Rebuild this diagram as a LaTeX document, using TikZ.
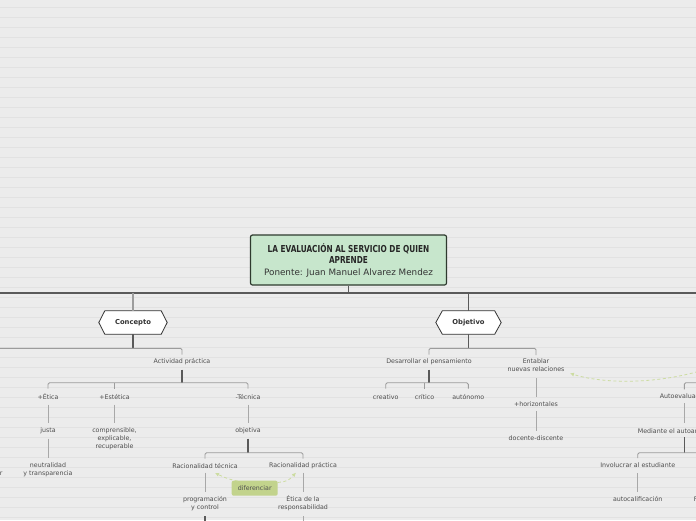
\documentclass[tikz,border=0pt]{standalone}
\usepackage{fontspec}
\setmainfont{DejaVu Sans}
\newfontfamily\titlefont[FakeStretch=0.85]{DejaVu Sans Condensed}
\usetikzlibrary{arrows.meta,calc}
\pgfdeclarelayer{bgl}
\pgfdeclarelayer{back}
\pgfsetlayers{bgl,back,main}
\definecolor{bgc}{HTML}{ECECEC}
\definecolor{bglc}{HTML}{E2E2E2}
\definecolor{txt}{HTML}{4E4E4E}
\definecolor{hext}{HTML}{333333}
\definecolor{trunkc}{HTML}{5A5A5A}
\definecolor{brc}{HTML}{9C9C9C}
\definecolor{clc}{HTML}{A8A8A8}
\definecolor{rootfill}{HTML}{C7E6CC}
\definecolor{rootdraw}{HTML}{2E3A2E}
\definecolor{diffill}{HTML}{C2D38C}
\definecolor{greenl}{HTML}{CCDCA0}
\begin{document}
\begin{tikzpicture}[x=1pt,y=-1pt,
  lbl/.style={font=\fontsize{6.3}{8}\selectfont, text=txt, align=center, inner sep=0pt},
  hexlbl/.style={font=\bfseries\fontsize{6.8}{8}\selectfont, text=hext, inner sep=0pt, minimum height=23pt},
  hexb/.style={fill=white, draw=hext, line width=0.8pt, line join=miter},
  trunk/.style={draw=trunkc, line width=1.1pt},
  rootl/.style={draw=trunkc, line width=1.1pt},
  br/.style={draw=brc, line width=0.9pt, rounded corners=1.5pt},
  cl/.style={draw=clc, line width=0.9pt},
  dashg/.style={draw=greenl, line width=0.8pt, dash pattern=on 3pt off 2.5pt, -{Latex[length=4pt,width=4pt]}}
]
\useasboundingbox (0,0) rectangle (696,520);
\clip (0,0) rectangle (696,520);
\begin{pgfonlayer}{bgl}
\fill[bgc] (0,0) rectangle (696,520);
\foreach \k in {0,...,51} \draw[bglc, line width=0.8pt] (0,{7.5+10*\k}) -- (696,{7.5+10*\k});
\end{pgfonlayer}

% edge coordinates
\coordinate (mbL) at (-2,293);
\coordinate (mbR) at (698,293);
\coordinate (cbar) at (-2,348.3);
\coordinate (abar) at (0,382.7);
\coordinate (obar) at (0,452.7);
\coordinate (bottom) at (0,522);
\coordinate (objbar) at (0,348.3);
\coordinate (dbar) at (0,382.7);
\coordinate (rbar1) at (698,382.7);
\coordinate (mbar) at (698,452.7);
\coordinate (gstart) at (698,371.5);

% root
\node[draw=rootdraw, fill=rootfill, line width=1.2pt, rounded corners=2pt, minimum width=196pt, minimum height=50pt, inner sep=0pt] (root) at (348.5,260) {};
\node[font=\titlefont\bfseries\fontsize{9.6}{10.6}\selectfont, text=black!85, align=center, anchor=base, inner sep=0pt] (title) at (348.5,263.3) {LA EVALUACIÓN AL SERVICIO DE QUIEN\\APRENDE};
\node[font=\fontsize{8.8}{10}\selectfont, text=hext, anchor=base, inner sep=0pt] (sub) at (348.5,275) {Ponente: Juan Manuel Alvarez Mendez};

% hexagons
\node[hexlbl, minimum width=56pt] (concepto) at (133,322.5) {Concepto};
\node[hexlbl, minimum width=52pt] (objetivo) at (468.5,322.5) {Objetivo};
\begin{pgfonlayer}{back}
\filldraw[hexb] ([xshift=-6pt]concepto.west) -- (concepto.north west) -- (concepto.north east) -- ([xshift=6pt]concepto.east) -- (concepto.south east) -- (concepto.south west) -- cycle;
\filldraw[hexb] ([xshift=-6.5pt]objetivo.west) -- (objetivo.north west) -- (objetivo.north east) -- ([xshift=6.5pt]objetivo.east) -- (objetivo.south east) -- (objetivo.south west) -- cycle;
\end{pgfonlayer}

% Concepto side
\node[lbl] (actividad) at (182,361.7) {Actividad práctica};
\node[lbl] (etica) at (48,396.7) {+Ética};
\node[lbl] (estetica) at (114.5,396.7) {+Estética};
\node[lbl] (tecnica) at (248,396.7) {-Técnica};
\node[lbl] (justa) at (48,430.7) {justa};
\node[lbl] (compr) at (114.5,438.7) {comprensible,\\explicable,\\recuperable};
\node[lbl] (objetiva) at (248,430.7) {objetiva};
\node[lbl] (neutral) at (48,470) {neutralidad\\y transparencia};
\node[lbl] (cutr) at (1.2,474) {r};
\node[lbl] (rtec) at (205,465.7) {Racionalidad técnica};
\node[lbl] (rprac) at (303,465.7) {Racionalidad práctica};
\node[lbl] (prog) at (205,503.3) {programación\\y control};
\node[lbl] (resp) at (303,503.3) {Ética de la\\responsabilidad};
\node[lbl, fill=diffill, rounded corners=2pt, minimum width=46pt, minimum height=15pt] (dif) at (254.7,488.2) {diferenciar};

% Objetivo side
\node[lbl] (desarrollar) at (429,361.7) {Desarrollar el pensamiento};
\node[lbl] (entablar) at (536,365.5) {Entablar\\nuevas relaciones};
\node[lbl] (creativo) at (385.7,396.7) {creativo};
\node[lbl] (critico) at (424.5,396.7) {crítico};
\node[lbl] (autonomo) at (468.3,396.7) {autónomo};
\node[lbl] (horiz) at (536,404) {+horizontales};
\node[lbl] (docente) at (536,438.5) {docente-discente};

% right side (cut off)
\node[lbl] (autoeval) at (684.3,396.5) {Autoevaluación};
\node[lbl, anchor=west] (mediante) at (637.7,430.7) {Mediante el autoanálisis};
\node[lbl] (involucrar) at (637.7,465.3) {Involucrar al estudiante};
\node[lbl] (autocal) at (637.7,499.3) {autocalificación};
\node[lbl, anchor=west] (cutf) at (693.6,499.3) {F};

% main bar
\draw[rootl] (root.south) -- (root.south |- mbL);
\draw[rootl] (mbL) -- (mbR);
\draw[draw=brc, line width=1.1pt] (concepto.north |- mbL) -- (concepto.north);
\draw[rootl] (objetivo.north |- mbL) -- (objetivo.north);

% Concepto connectors
\draw[trunk] (concepto.south) -- (concepto.south |- cbar);
\draw[br] (cbar) -| ([yshift=7pt]actividad.center);
\draw[trunk] ([yshift=-8pt]actividad.center) -- (actividad.center |- abar);
\draw[br] ([yshift=8pt]etica.center) |- (tecnica.center |- abar) -- ([yshift=8pt]tecnica.center);
\draw[br] ([yshift=8pt]estetica.center) -- (estetica.center |- abar);
\draw[cl] ([yshift=-8pt]etica.center) -- ([yshift=8pt]justa.center);
\draw[cl] ([yshift=-8pt]justa.center) -- ([yshift=12pt]neutral.center);
\draw[cl] ([yshift=-8pt]estetica.center) -- ([yshift=15.7pt]compr.center);
\draw[cl] ([yshift=-8pt]tecnica.center) -- ([yshift=8pt]objetiva.center);
\draw[trunk] ([yshift=-8pt]objetiva.center) -- (objetiva.center |- obar);
\draw[br] ([yshift=7pt]rtec.center) |- (rprac.center |- obar) -- ([yshift=7pt]rprac.center);
\draw[cl] ([yshift=-7pt]rtec.center) -- ([yshift=11.3pt]prog.center);
\draw[cl] ([yshift=-7pt]rprac.center) -- ([yshift=11.3pt]resp.center);
\draw[trunk] ([yshift=-13pt]prog.center) -- (prog.center |- bottom);
\draw[cl] ([yshift=-13pt]resp.center) -- (resp.center |- bottom);
\draw[dashg] ([xshift=-17pt,yshift=-0.5pt]dif.north) .. controls (228,479) .. ([shift={(10pt,-7.3pt)}]rtec.center);
\draw[dashg] ([yshift=-2pt]dif.north east) .. controls (288,481) .. ([shift={(-7pt,-7pt)}]rprac.center);

% Objetivo connectors
\draw[trunk] (objetivo.south) -- (objetivo.south |- objbar);
\draw[br] ([yshift=7pt]desarrollar.center) |- (entablar.center |- objbar) -- ([yshift=10.5pt]entablar.center);
\draw[trunk] ([yshift=-8pt]desarrollar.center) -- (desarrollar.center |- dbar);
\draw[br] ([yshift=8pt]creativo.center) |- (autonomo.center |- dbar) -- ([yshift=8pt]autonomo.center);
\draw[br] ([yshift=8pt]critico.center) -- (critico.center |- dbar);
\draw[cl] ([yshift=-12.5pt]entablar.center) -- ([yshift=7.3pt]horiz.center);
\draw[cl] ([yshift=-7pt]horiz.center) -- ([yshift=7.5pt]docente.center);

% right connectors
\draw[br] ([yshift=7.2pt]autoeval.center) |- (rbar1);
\draw[cl] ([yshift=-6.5pt]autoeval.center) -- ([yshift=7.7pt]autoeval.center |- mediante.center);
\draw[trunk] ([yshift=-6.3pt]autoeval.center |- mediante.center) -- (autoeval.center |- mbar);
\draw[br] ([yshift=7.3pt]involucrar.center) |- (mbar);
\draw[cl] ([yshift=-8pt]involucrar.center) -- ([yshift=7.6pt]autocal.center);
\draw[dashg] (gstart) .. controls (650,385) and (600,383) .. ([shift={(34pt,-7.8pt)}]entablar.center);
\end{tikzpicture}
\end{document}
